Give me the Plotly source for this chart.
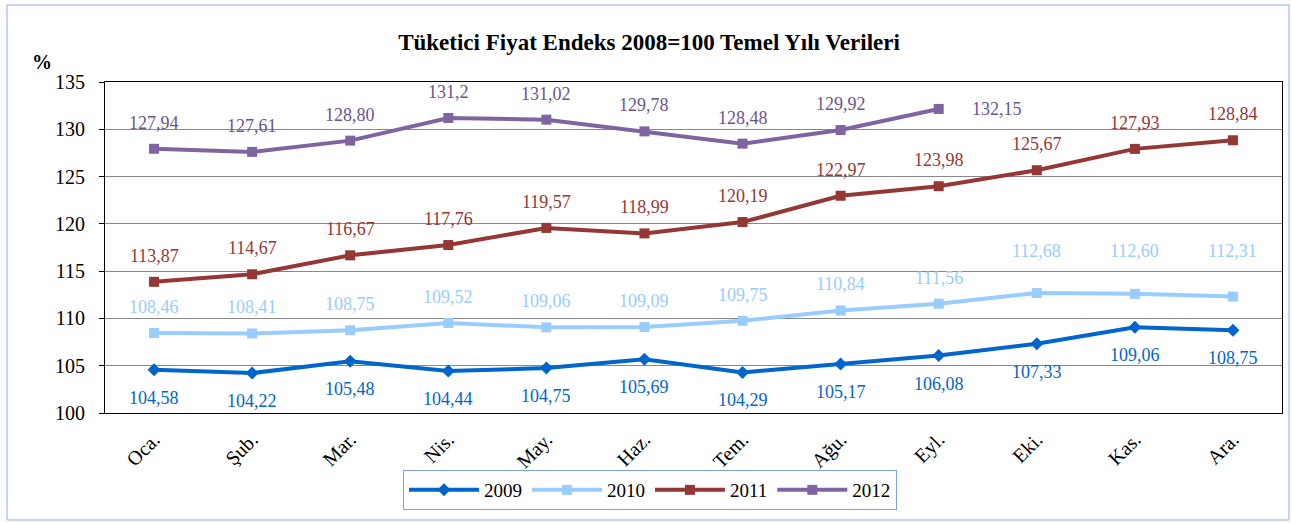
import plotly.graph_objects as go

months = ["Oca.", "Şub.", "Mar.", "Nis.", "May.", "Haz.", "Tem.", "Ağu.", "Eyl.", "Eki.", "Kas.", "Ara."]
y2009 = [104.58, 104.22, 105.48, 104.44, 104.75, 105.69, 104.29, 105.17, 106.08, 107.33, 109.06, 108.75]
y2010 = [108.46, 108.41, 108.75, 109.52, 109.06, 109.09, 109.75, 110.84, 111.56, 112.68, 112.60, 112.31]
y2011 = [113.87, 114.67, 116.67, 117.76, 119.57, 118.99, 120.19, 122.97, 123.98, 125.67, 127.93, 128.84]
y2012 = [127.94, 127.61, 128.80, 131.2, 131.02, 129.78, 128.48, 129.92, 132.15]
y_ticks = [100, 105, 110, 115, 120, 125, 130, 135]

W, H = 1292, 523
ML, MR, MT, MB = 105, 10, 82, 110
PW, PH = W - ML - MR, H - MT - MB

FONT = "Liberation Serif, Times New Roman, serif"

series = [
    ("2009", y2009, "#0066cc", "#0066cc", "diamond", 10),
    ("2010", y2010, "#99ccff", "#99ccff", "square", 10),
    ("2011", y2011, "#953735", "#953735", "square", 10),
    ("2012", y2012, "#8064a2", "#6b548f", "square", 10),
]

def fmt(v, name, i):
    if name == "2012" and i == 3:
        return "131,2"
    return f"{v:.2f}".replace(".", ",")

fig = go.Figure()
annotations = []
for name, vals, col, lcol, sym, ms in series:
    fig.add_trace(go.Scatter(
        x=months[:len(vals)], y=vals, name=name, mode="lines+markers",
        line=dict(color=col, width=4),
        marker=dict(symbol=sym, size=ms, color=col),
    ))
    for i, v in enumerate(vals):
        xs, ys = 0, 26
        if name == "2009":
            ys = -28
        if name == "2010" and i >= 9:
            ys = 26 + (112.9 - v) * 9.46 + 14
        if name == "2012" and i == len(vals) - 1:
            xs, ys = 58, 0
        annotations.append(dict(
            x=months[i], y=v, text=fmt(v, name, i), showarrow=False,
            xshift=xs, yshift=ys, font=dict(family=FONT, size=18, color=lcol),
        ))

annotations.append(dict(
    xref="paper", yref="paper", x=(42 - ML) / PW, y=(H - MB - 62) / PH,
    xanchor="center", yanchor="middle",
    text="<b>%</b>", showarrow=False, font=dict(family=FONT, size=20, color="black"),
))

fig.update_layout(
    width=W, height=H,
    margin=dict(l=ML, r=MR, t=MT, b=MB),
    paper_bgcolor="white", plot_bgcolor="white",
    title=dict(text="<b>Tüketici Fiyat Endeks 2008=100 Temel Yılı Verileri</b>",
               x=649 / W, xanchor="center", y=1 - 42 / H, yanchor="middle",
               font=dict(family=FONT, size=23, color="black")),
    font=dict(family=FONT, color="black"),
    showlegend=True,
    legend=dict(orientation="h", x=(650 - ML) / PW, xanchor="center",
                y=(H - MB - 470) / PH, yanchor="top",
                bordercolor="#7f9ff0", borderwidth=1,
                font=dict(family=FONT, size=19, color="black"),
                itemwidth=70, traceorder="normal"),
    annotations=annotations,
    shapes=[dict(type="rect", xref="paper", yref="paper",
                 x0=(7 - ML) / PW, x1=(1289 - ML) / PW,
                 y0=(H - MB - 520) / PH, y1=(H - MB - 5) / PH,
                 line=dict(color="#8fa8f0", width=1), layer="below")],
)
fig.update_xaxes(type="category", categoryarray=months, range=[-0.5, 11.5],
                 tickangle=-45, tickfont=dict(family=FONT, size=20, color="black"),
                 showline=True, linecolor="black", linewidth=1, mirror=True,
                 showgrid=False, ticks="", ticklabelstandoff=6)
fig.update_yaxes(range=[100, 135], tickvals=y_ticks, ticktext=[str(t) for t in y_ticks],
                 tickfont=dict(family=FONT, size=20, color="black"),
                 showline=True, linecolor="black", linewidth=1, mirror=True,
                 showgrid=True, gridcolor="#888888", gridwidth=1,
                 ticks="outside", ticklen=5, tickcolor="black", ticklabelstandoff=10,
                 zeroline=False)

fig.write_html("out.html", config={"displayModeBar": False},
               post_script="document.body.style.margin='0';")
